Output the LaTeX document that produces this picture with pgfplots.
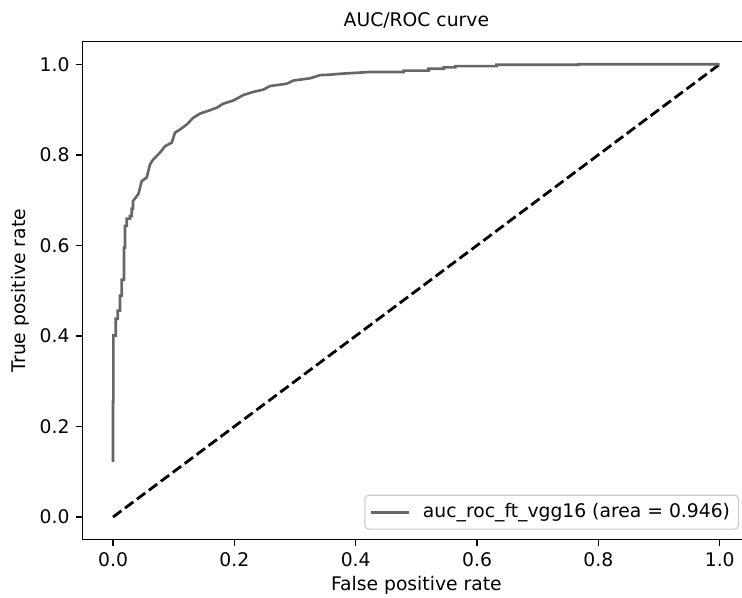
\documentclass[border=0pt]{standalone}
\usepackage{fontspec}
\setmainfont{DejaVu Sans}
\usepackage{pgfplots}
\pgfplotsset{compat=1.18}
\definecolor{curvegrey}{RGB}{102,102,102}
\definecolor{legframe}{RGB}{204,204,204}

\begin{document}
\begin{tikzpicture}
\begin{axis}[
  scale only axis,
  width=355.9pt, height=265.6pt,
  xmin=-0.05, xmax=1.05, ymin=-0.05, ymax=1.05,
  xtick={0,0.2,0.4,0.6,0.8,1}, ytick={0,0.2,0.4,0.6,0.8,1},
  tick label style={/pgf/number format/.cd, fixed, fixed zerofill, precision=1, assume math mode=true},
  tick align=outside, tick pos=left, major tick length=3.5pt,
  every tick/.style={black, line width=0.8pt},
  axis line style={line width=0.8pt},
  title={AUC/ROC curve},
  every axis title shift=0pt,
  title style={at={(axis description cs:0.5,1.0301)}, anchor=base, font=\normalsize},
  xlabel={False positive rate},
  xlabel style={at={(axis description cs:0.5,-0.1024)}, anchor=base},
  ylabel={True positive rate},
  ylabel style={at={(axis description cs:-0.094,0.5)}, anchor=center},
  legend style={at={(axis description cs:1,0)}, anchor=south east,
    xshift=-5.9pt, yshift=5.3pt, draw=legframe, line width=0.6pt,
    rounded corners=2pt, fill=white, fill opacity=0.8, text opacity=1,
    inner xsep=2.5pt, inner ysep=2.5pt,
    /tikz/every odd column/.append style={column sep=5pt}},
  legend cell align=left,
  legend image code/.code={\draw[#1] (0pt,0pt) -- (20pt,0pt);},
]
\addplot[black, line width=1.5pt, dash pattern=on 5.55pt off 2.4pt, forget plot]
  coordinates {(0,0) (1,1)};
\addplot[curvegrey, line width=1.4pt] coordinates {
  (0,0.122) (0,0.254) (0.0005,0.254) (0.0005,0.401) (0.0045,0.401) (0.0045,0.438)
  (0.0077,0.438) (0.0077,0.456) (0.0115,0.456) (0.0115,0.489) (0.0143,0.489)
  (0.0143,0.524) (0.018,0.524) (0.018,0.595) (0.0198,0.595) (0.0198,0.643)
  (0.0226,0.643) (0.0226,0.659) (0.028,0.659) (0.028,0.665) (0.0308,0.665)
  (0.0308,0.681) (0.033,0.681) (0.033,0.698)
  (0.0417,0.713) (0.0473,0.742) (0.0556,0.750) (0.061,0.779) (0.0664,0.790)
  (0.0775,0.805) (0.0857,0.819) (0.0968,0.827) (0.1022,0.849) (0.1105,0.856)
  (0.1215,0.867) (0.1324,0.882) (0.1434,0.891) (0.1545,0.896) (0.171,0.904)
  (0.1818,0.913) (0.1983,0.920) (0.2148,0.932) (0.2313,0.939) (0.2478,0.944)
  (0.2588,0.952) (0.2864,0.957) (0.2972,0.964) (0.3248,0.969) (0.3413,0.976)
  (0.3577,0.977) (0.3742,0.979) (0.4237,0.983) (0.457,0.983)
  (0.479,0.983) (0.479,0.986) (0.52,0.986) (0.52,0.990) (0.545,0.990)
  (0.545,0.993) (0.564,0.993) (0.564,0.996) (0.632,0.996) (0.632,0.999)
  (0.767,0.999) (0.767,1) (1,1)
};
\addlegendentry{auc\_roc\_ft\_vgg16 (area = 0.946)}
\coordinate (bl) at (rel axis cs:0,0);
\coordinate (tr) at (rel axis cs:1,1);
\end{axis}
\pgfresetboundingbox
\useasboundingbox ([xshift=-44.1pt,yshift=-30.9pt]bl) rectangle ([xshift=-4.3pt,yshift=22.2pt]tr);
\end{tikzpicture}
\end{document}
